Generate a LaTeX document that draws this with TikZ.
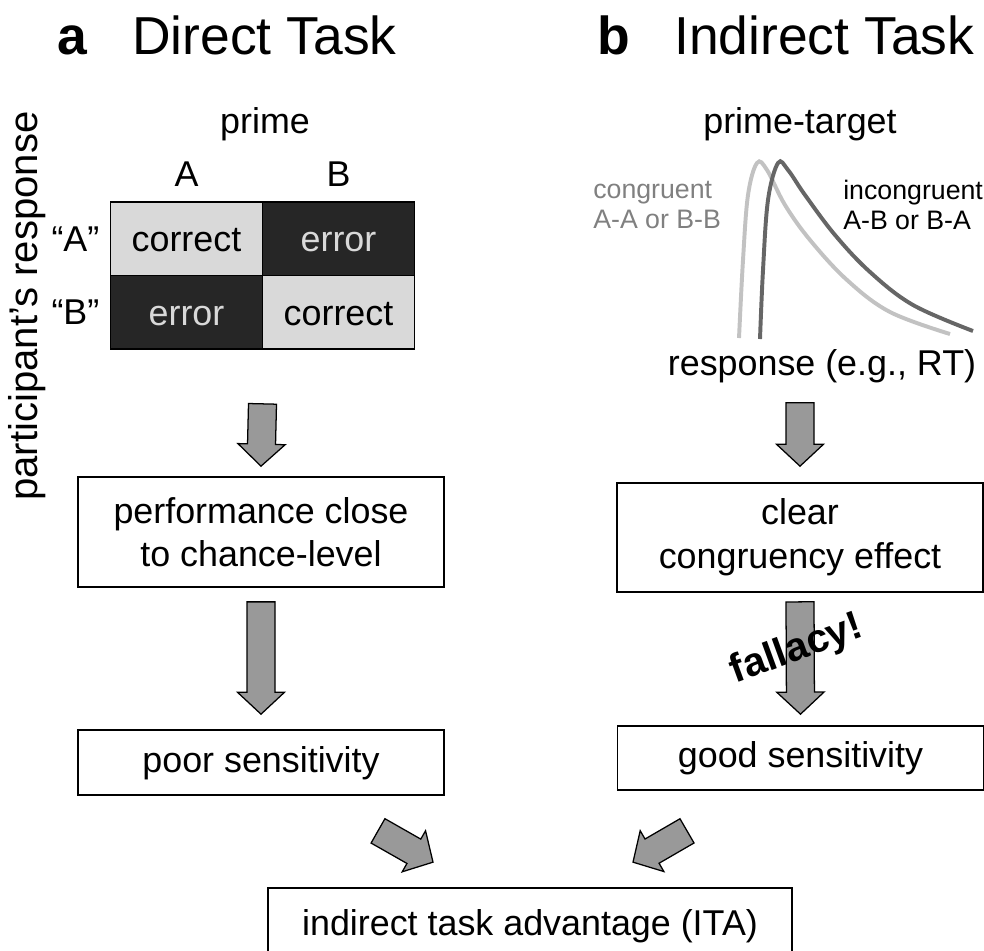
\documentclass[tikz,border=0pt]{standalone}
\usepackage{fontspec}
\setmainfont{Liberation Sans}
\usetikzlibrary{positioning,calc,matrix}
\definecolor{cellgray}{gray}{0.85}
\definecolor{celldark}{gray}{0.15}
\definecolor{arrowgray}{gray}{0.6}
\definecolor{congray}{gray}{0.5}
\definecolor{curvelight}{gray}{0.76}
\definecolor{curvedark}{gray}{0.4}
\tikzset{txtbox/.style={
    rectangle,draw=black,line width=1.2pt,
    minimum width=9.15cm,
    font=\fontsize{25.5}{31}\selectfont},
  tworow/.style={align=center},
  onerow/.style={text height=18.5pt,text depth=5pt}
}
\tikzset{cell/.style={
    rectangle,draw=black,line width=1.2pt,
    minimum width=3.8cm,minimum height=1.83cm,inner sep=0pt,
    text height=18.5pt,text depth=0pt,
    font=\fontsize{25.5}{31}\selectfont},
  lightcell/.style={cell,fill=cellgray,text=black},
  darkcell/.style={cell,fill=celldark,text=cellgray},
}
\tikzset{lbl/.style={inner sep=0pt,font=\fontsize{25.5}{31}\selectfont},
  small/.style={inner sep=0pt,align=left,font=\fontsize{19}{21.3}\selectfont},
  ttl/.style={inner sep=0pt,font=\fontsize{38}{44}\selectfont},
  fatarrow/.style={draw=black,fill=arrowgray,line width=0.9pt,line join=miter,
    to path={let \p1=(\tikztostart),\p2=(\tikztotarget),
      \p3=($(\p2)!0.55cm!(\p1)$) in
      ($(\p1)!0.35cm!90:(\p2)$) -- ($(\p3)!0.35cm!90:(\p2)$)
      -- ($(\p3)!0.59cm!90:(\p2)$) -- (\p2)
      -- ($(\p3)!0.59cm!-90:(\p2)$) -- ($(\p3)!0.35cm!-90:(\p2)$)
      -- ($(\p1)!0.35cm!-90:(\p2)$) -- cycle}},
}

\begin{document}
\begin{tikzpicture}[x=0.025cm,y=-0.025cm]
    \useasboundingbox (0,0) rectangle (984,950);
    % titles
    \node (la) [ttl,anchor=base] at (72,54) {\bfseries a};
    \node (ta) [ttl,anchor=base west] at (132,54) {Direct Task};
    \node (lb) [ttl,anchor=base] at (614,54) {\bfseries b};
    \node (tb) [ttl,anchor=base west] at (674,54) {Indirect Task};
    % direct task
    \node (prime) [lbl,anchor=base] at (265,133) {prime};
    \matrix (mat) at (262.5,275.5) [inner sep=0pt,column sep=-1.2pt,row sep=-1.2pt] {
      % row 1
      \node (aa) [lightcell] {correct}; & \node (ab) [darkcell] {error}; \\
      % row 2
      \node (ba) [darkcell] {error}; & \node (bb) [lightcell] {correct}; \\
    };
    \node (ca) [lbl,above=0.375cm of aa] {A};
    \node (cb) [lbl,above=0.375cm of ab] {B};
    \node (ra) [lbl,left=0.25cm of aa] {“A”};
    \node (rb) [lbl,left=0.25cm of ba] {“B”};
    \node (part) [lbl,rotate=90,font=\fontsize{28.5}{34}\selectfont] at (27,306) {participant’s response};
    \node (perf) [txtbox,tworow,minimum height=2.75cm] at (261,532) {performance close\\to chance-level};
    \node (poor) [txtbox,onerow,minimum height=1.625cm] at (261,762.5) {poor sensitivity};
    % indirect task
    \node (pt) [lbl,anchor=base] at (800,133) {prime-target};
    \draw[curvelight,line width=2.8pt] plot[smooth,tension=0.6] coordinates {
      (739,338) (743,260) (748,195) (757,163) (767,170) (785,205) (810,240)
      (847,280) (890,312) (950,334)};
    \draw[curvedark,line width=2.8pt] plot[smooth,tension=0.6] coordinates {
      (760,339) (763,270) (768,200) (778,163) (788,170) (805,195) (835,235)
      (870,272) (913,305) (973,331)};
    \node (cong) [small,text=congray,anchor=west] at (593,205) {congruent\\A-A or B-B};
    \node (incong) [small,anchor=west] at (843,205) {incongruent\\A-B or B-A};
    \node (rt) [lbl,anchor=base] at (822,375) {response (e.g., RT)};
    \node (clear) [txtbox,tworow,minimum height=2.725cm] at (800,537.5) {clear\\congruency effect};
    \node (good) [txtbox,onerow,minimum height=1.6cm] at (800.5,758) {good sensitivity};
    % result
    \node (ita) [txtbox,onerow,minimum width=13.1cm,minimum height=1.9cm] at (530,926) {indirect task advantage (ITA)};
    % arrows
    \coordinate (rtb) at (clear.north |- rt.south);
    \draw[fatarrow] ([shift={(0,54)}]mat.south) to ([shift={(0,-10)}]perf.north);
    \draw[fatarrow] ([shift={(0,14)}]perf.south) to ([shift={(0,-15)}]poor.north);
    \draw[fatarrow] ([shift={(0,20)}]rtb) to ([shift={(0,-16)}]clear.north);
    \draw[fatarrow] ([shift={(0,9)}]clear.south) to ([shift={(0,-11)}]good.north);
    \draw[fatarrow] ([shift={(117,35)}]poor.south) to ([shift={(-97,-25)}]ita.north);
    \draw[fatarrow] ([shift={(-113.5,40)}]good.south) to ([shift={(103,-25)}]ita.north);
    \node (fal) [rotate=20,font=\fontsize{28.5}{32}\selectfont\bfseries] at (797,650) {fallacy!};
\end{tikzpicture}
\end{document}
